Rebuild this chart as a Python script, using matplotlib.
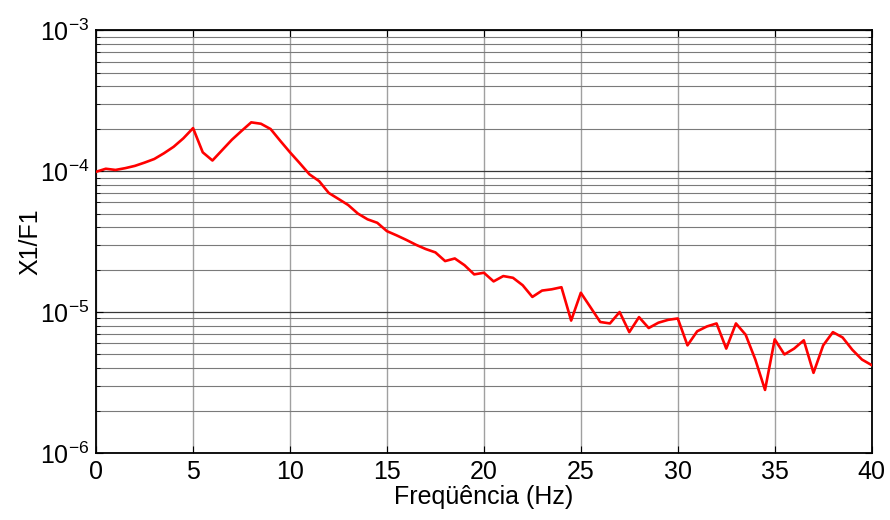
import numpy as np
import matplotlib
matplotlib.use('Agg')
from matplotlib import pyplot as plt
from matplotlib import ticker

# spectrum, one sample every 0.5 Hz from 0 to 40 Hz
df = 0.5
x1_f1 = [0.99e-4, 1.04e-4, 1.02e-4, 1.05e-4, 1.09e-4, 1.15e-4, 1.22e-4, 1.34e-4,
         1.49e-4, 1.71e-4, 2.02e-4, 1.36e-4, 1.19e-4, 1.41e-4, 1.67e-4, 1.93e-4,
         2.22e-4, 2.17e-4, 1.99e-4, 1.64e-4, 1.36e-4, 1.14e-4, 0.95e-4, 0.85e-4,
         0.70e-4, 0.635e-4, 0.575e-4, 0.50e-4, 0.455e-4, 0.43e-4, 0.375e-4, 0.35e-4,
         0.325e-4, 0.30e-4, 0.28e-4, 0.265e-4, 0.23e-4, 0.24e-4, 0.215e-4, 0.185e-4,
         0.19e-4, 0.165e-4, 0.18e-4, 0.175e-4, 0.155e-4, 0.128e-4, 0.142e-4, 0.145e-4,
         0.15e-4, 0.087e-4, 0.137e-4, 0.108e-4, 0.085e-4, 0.083e-4, 0.10e-4, 0.072e-4,
         0.092e-4, 0.077e-4, 0.084e-4, 0.088e-4, 0.09e-4, 0.058e-4, 0.073e-4, 0.079e-4,
         0.083e-4, 0.055e-4, 0.083e-4, 0.069e-4, 0.046e-4, 0.028e-4, 0.064e-4, 0.05e-4,
         0.055e-4, 0.063e-4, 0.037e-4, 0.058e-4, 0.072e-4, 0.066e-4, 0.054e-4, 0.046e-4,
         0.042e-4]
freq = np.arange(len(x1_f1)) * df

x_ticks = [0, 5, 10, 15, 20, 25, 30, 35, 40]

plt.rcParams['font.family'] = ['Liberation Sans', 'DejaVu Sans']

fig = plt.figure(figsize=(8.9, 5.2), dpi=100)
ax = fig.add_axes([0.108, 0.129, 0.8714, 0.8128])

ax.semilogy(freq, x1_f1, color='red', linewidth=1.9, zorder=3)

ax.set_xlim(0, 40)
ax.set_ylim(1e-6, 1e-3)
ax.set_xticks(x_ticks)
ax.yaxis.set_major_locator(ticker.LogLocator(base=10, numticks=10))
ax.yaxis.set_minor_locator(ticker.LogLocator(base=10, subs=np.arange(2, 10), numticks=20))
ax.yaxis.set_major_formatter(ticker.FuncFormatter(lambda v, p: r'$\mathregular{10^{%d}}$' % round(np.log10(v))))
ax.yaxis.set_minor_formatter(ticker.NullFormatter())

ax.grid(True, axis='x', which='major', color='#a0a0a0', linewidth=1.0, linestyle='-')
ax.grid(True, axis='y', which='major', color='#383838', linewidth=0.9, linestyle='-')
ax.grid(True, axis='y', which='minor', color='#7a7a7a', linewidth=0.8, linestyle='-')
ax.set_axisbelow(True)

ax.tick_params(which='both', direction='in', top=True, right=True, labelsize=18, pad=5)
ax.tick_params(which='major', length=5, width=0.8)
ax.tick_params(which='minor', length=3, width=0.6)
for s in ax.spines.values():
    s.set_linewidth(1.3)

ax.set_xlabel('Freqüência (Hz)', fontsize=18, labelpad=1)
ax.set_ylabel('X1/F1', fontsize=18, labelpad=-2)

fig.savefig('out.png', dpi=100)
